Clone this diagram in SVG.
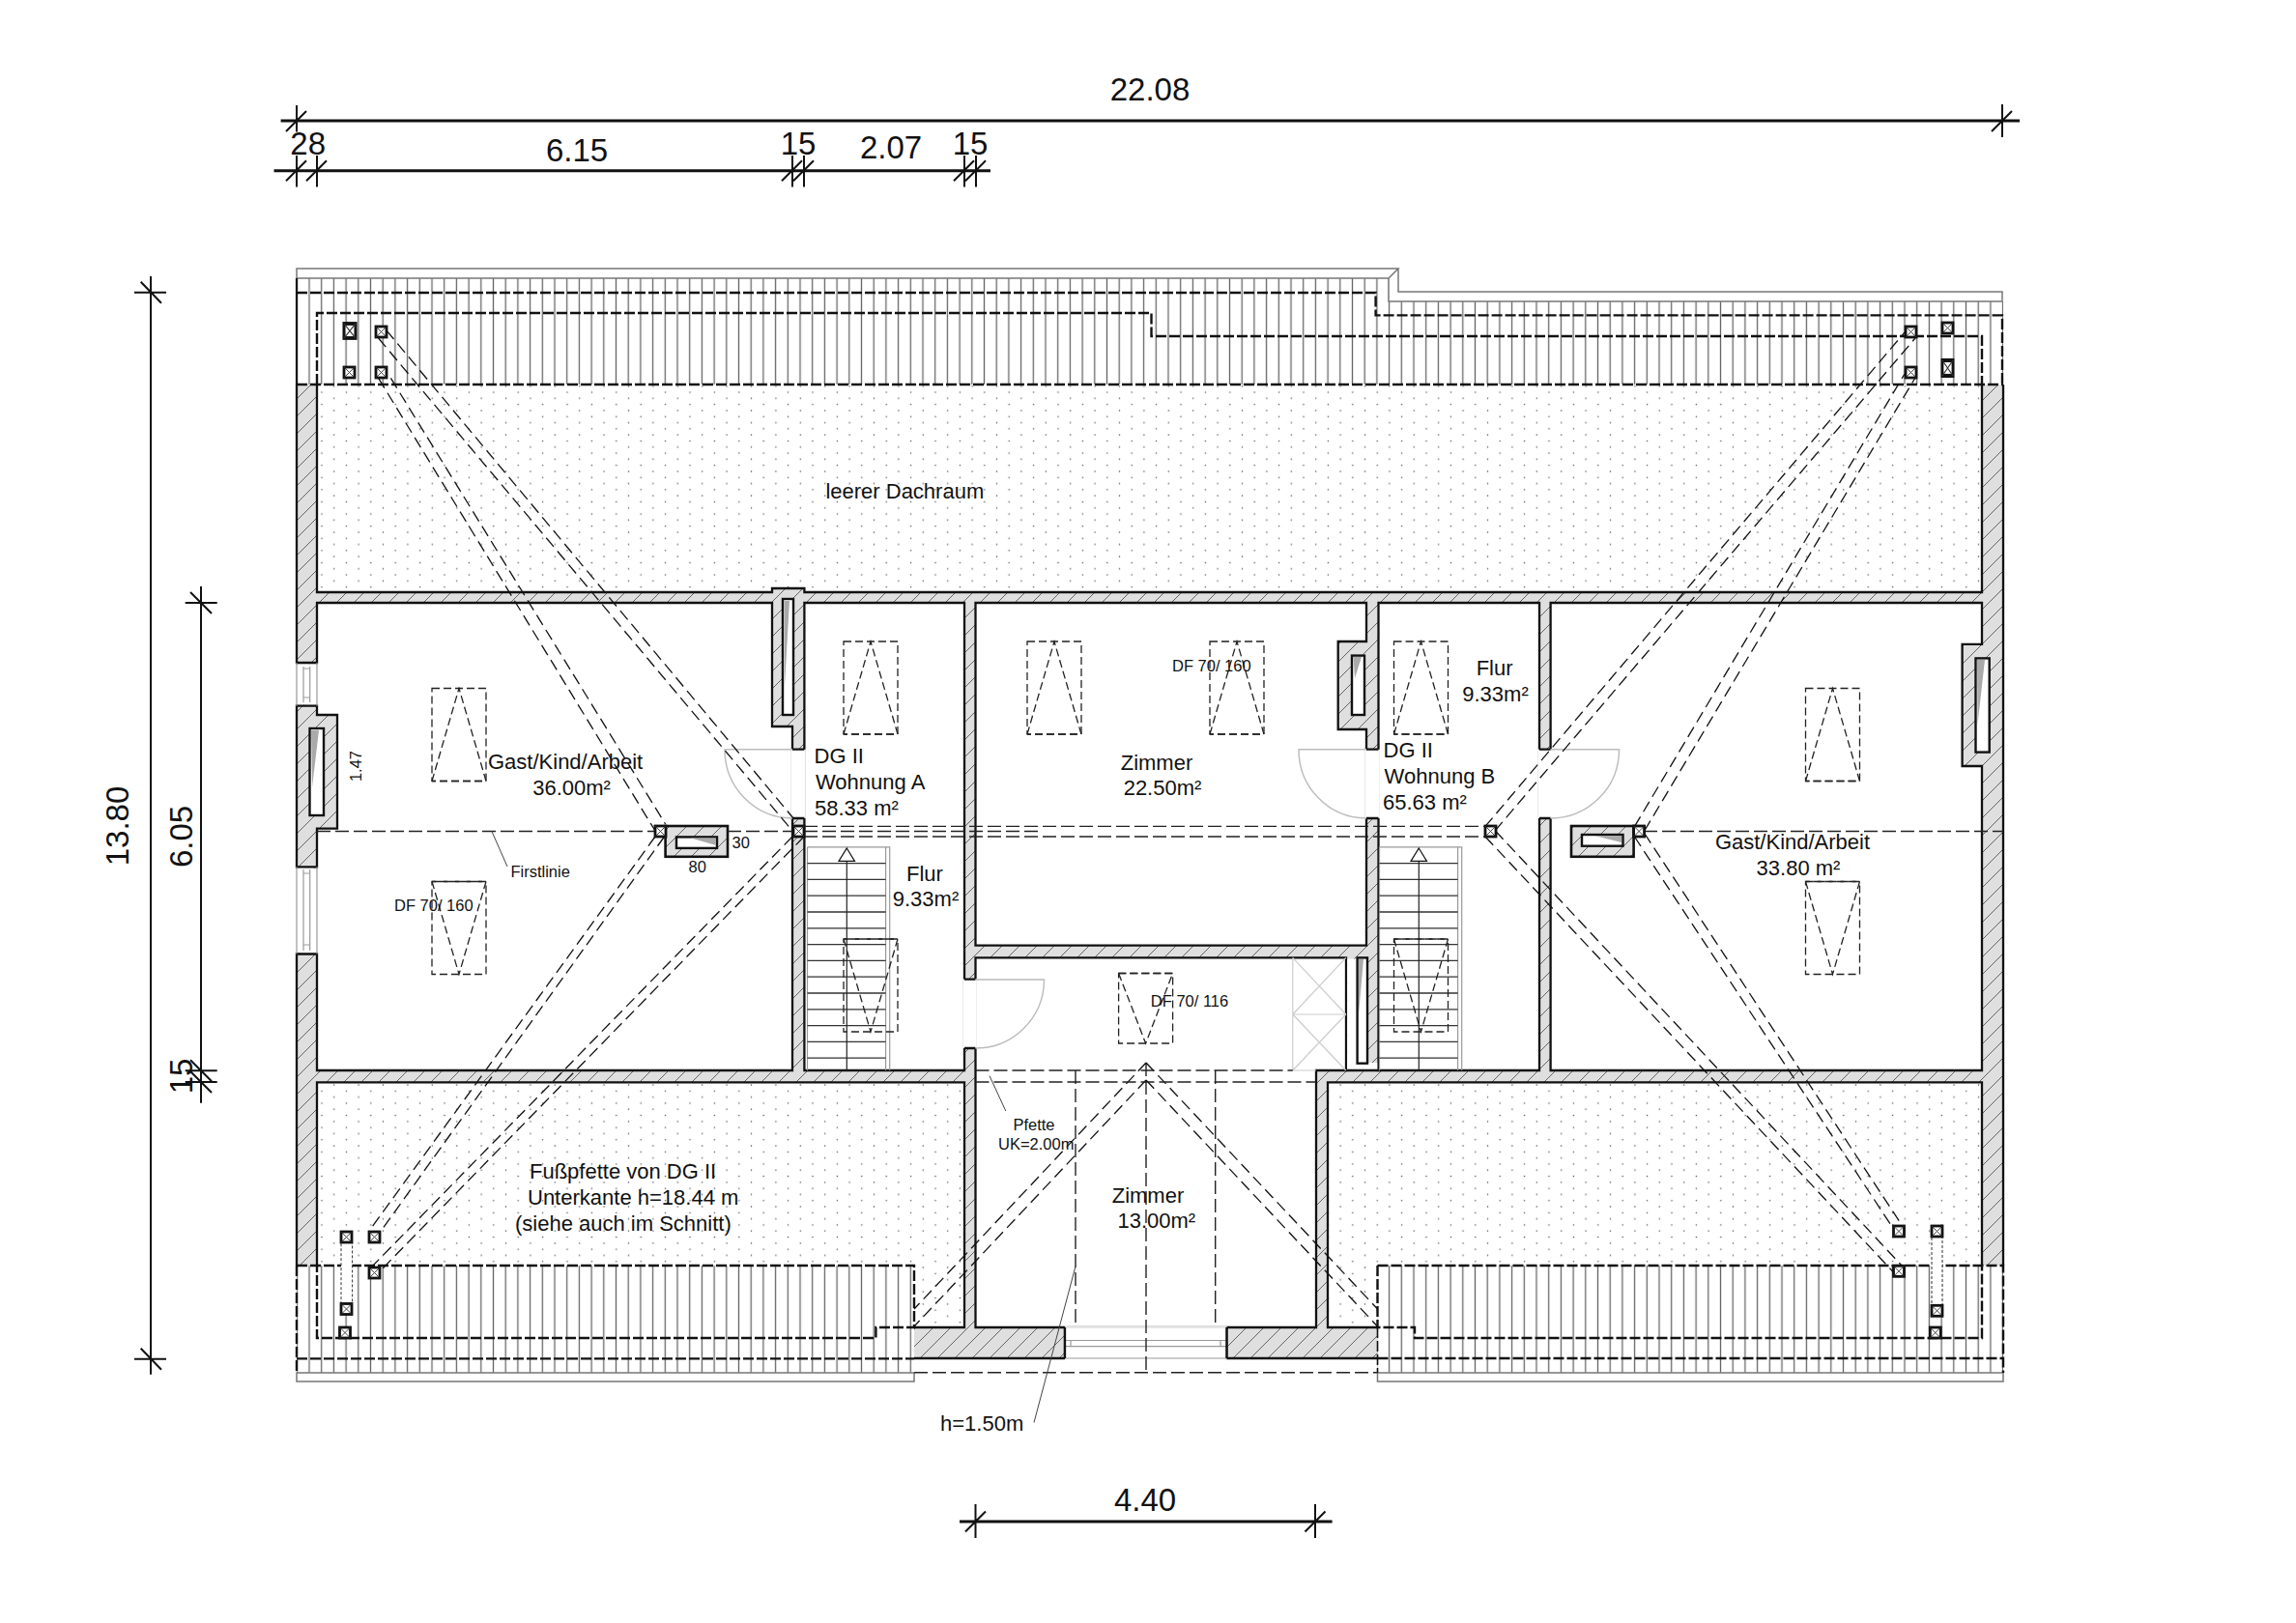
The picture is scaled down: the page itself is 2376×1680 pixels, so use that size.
<svg xmlns="http://www.w3.org/2000/svg" width="2376" height="1680" viewBox="0 0 2376 1680">
<style>
text{font-family:"Liberation Sans",Arial,sans-serif;fill:#111}
.d{font-size:33px;text-anchor:middle}
.t{font-size:22px}
.m{text-anchor:middle}
.s{font-size:16.5px}
.dim{fill:none;stroke:#111;stroke-width:2}
.dl{fill:none;stroke:#111;stroke-width:3}
.rf{fill:none;stroke:#777;stroke-width:1.5}
.thk{fill:none;stroke:#111;stroke-width:2.4;stroke-dasharray:11 3}
.thn{fill:none;stroke:#222;stroke-width:1.4;stroke-dasharray:14 5}
.h{fill:none;stroke:#111;stroke-width:1.3;stroke-dasharray:12 6}
.sk{fill:none;stroke:#222;stroke-width:1.3;stroke-dasharray:8 4}
.w{stroke:#111;stroke-width:2.3;fill:none}
.wht{fill:#fff;stroke:none}
.door{fill:none;stroke:#bbb;stroke-width:1.4}
.gl{fill:none;stroke:#999;stroke-width:1.2}
.lg{fill:none;stroke:#ccc;stroke-width:1.2}
.ld{fill:none;stroke:#444;stroke-width:1}
.p rect{fill:#fff;stroke:#111;stroke-width:2.8}
.p path{fill:none;stroke:#333;stroke-width:.9}
.slot{fill:#fff;stroke:#111;stroke-width:2.4}
.sl{fill:#aaa;stroke:none}
</style>
<defs>
<pattern id="hatch" patternUnits="userSpaceOnUse" width="18" height="18"><rect width="18" height="18" fill="#dfdfdf"/><path d="M-2 20L20 -2" stroke="#555" stroke-width=".9"/></pattern>
<pattern id="rib" patternUnits="userSpaceOnUse" x="313.65" y="0" width="12.7" height="40"><rect width="12.7" height="40" fill="#fff"/><path d="M6.35 0V40" stroke="#666" stroke-width="1.3"/></pattern>
<pattern id="dots1" patternUnits="userSpaceOnUse" x="326.65" y="399.7" width="25.4" height="12.6"><rect width="25.4" height="12.6" fill="#fff"/><rect x="5.7" y="5.7" width="1.3" height="1.3" fill="#555"/><rect x="18.4" y="12" width="1.3" height=".6" fill="#555"/><rect x="18.4" y="0" width="1.3" height=".7" fill="#555"/></pattern>
<pattern id="dots2" patternUnits="userSpaceOnUse" x="326.65" y="1123" width="25.4" height="12.6"><rect width="25.4" height="12.6" fill="#fff"/><rect x="5.7" y="5.7" width="1.3" height="1.3" fill="#555"/><rect x="18.4" y="12" width="1.3" height=".6" fill="#555"/><rect x="18.4" y="0" width="1.3" height=".7" fill="#555"/></pattern>
<g id="post" class="p"><rect width="11" height="11"/><path d="M0 0L11 11M11 0L0 11"/></g>
<g id="skyU"><rect class="sk" width="56" height="96"/><path class="sk" d="M0 96L28 0L56 96H0"/></g>
<g id="skyD"><rect class="sk" width="56" height="96"/><path class="sk" d="M0 0L28 96L56 0H0"/></g>
<g id="stair">
<path class="gl" d="M835.5 876.8H920.7V1108M916.6 876.8V1108M835.5 876.8V1108"/>
<path d="M835.5 893.6H916.6M835.5 910.4H916.6M835.5 927.2H916.6M835.5 944H916.6M835.5 960.8H916.6M835.5 977.6H916.6M835.5 994.4H916.6M835.5 1011.2H916.6M835.5 1028H916.6M835.5 1044.8H916.6M835.5 1061.6H916.6M835.5 1078.4H916.6M835.5 1095.2H916.6" fill="none" stroke="#333" stroke-width="1.3"/>
<path d="M876.3 891.4V1108" fill="none" stroke="#222" stroke-width="1.2"/>
<path d="M876.3 878L884.5 891.4H868Z" fill="#fff" stroke="#111" stroke-width="1.2"/>
</g>
</defs>

<g id="roof">
<rect x="307" y="288" width="1130" height="110" fill="url(#rib)"/>
<rect x="1437" y="312" width="636" height="86" fill="url(#rib)"/>
<rect x="307" y="1310" width="639" height="111" fill="url(#rib)"/>
<rect x="1425.5" y="1310" width="647.5" height="111" fill="url(#rib)"/>
<path class="rf" d="M307 288V278H1447L1437 288H307M1437 288V312H2072V302H1447V278M2072 302V312"/>
<path class="rf" d="M307 1421H946V1430H307ZM1425.5 1421H2073V1430H1425.5Z"/>
</g>

<g id="walls">
<path fill="url(#hatch)" d="M307 398H2073V1310H1425.5V1406H946V1310H307Z"/>
<path fill="url(#dots1)" d="M328 398H2051V613H832.4V609H799V613H328Z"/>
<path class="w" d="M328 398V613H799V609H832.4V613H2051V398"/>
<path fill="url(#dots2)" d="M328 1120.4H998V1374H946V1310H328Z"/>
<path class="w" d="M328 1310V1120.4H998V1374H946"/>
<path fill="url(#dots2)" d="M2051 1120.4H1374V1374H1425.5V1310H2051Z"/>
<path class="w" d="M2051 1310V1120.4H1374V1374H1425.5"/>
<path class="w" d="M307 398V1310M2073 398V1310"/>
<path class="w" d="M946 1406H1102V1374M1269.4 1374V1406H1425.5"/>
</g>

<g id="rooms">
<path class="w" style="fill:#fff" d="M328 624H799V752H820V1108H328V857.7H349V740H328Z"/>
<path class="w" style="fill:#fff" d="M832.4 624H998V1108H832.4Z"/>
<path class="w" style="fill:#fff" d="M1009.5 624H1414V664H1384.7V755H1414V978.6H1009.5Z"/>
<path class="w" style="fill:#fff" d="M1009.5 991.4H1393V1108H1362V1374H1009.5Z"/>
<path class="w" style="fill:#fff" d="M1426.5 624H1593V1108H1426.5Z"/>
<path class="w" style="fill:#fff" d="M1604.6 624H2051V666.8H2030.6V793H2051V1108H1604.6Z"/>
<rect class="wht" x="1394.2" y="992.6" width="10" height="114"/>
<rect class="wht" x="1394.2" y="1100" width="31" height="7"/>
<path class="w" d="M1393 1108H1426.5"/>
<rect class="wht" x="818.6" y="775.7" width="15.2" height="71.3"/>
<rect class="wht" x="996.6" y="1013.6" width="14.3" height="71.4"/>
<rect class="wht" x="1412.6" y="775.7" width="15.3" height="71.3"/>
<rect class="wht" x="1591.6" y="775.7" width="14.4" height="71.3"/>
<path class="w" d="M820 775.7H832.4M820 847H832.4M998 1013.6H1009.5M998 1085H1009.5M1414 775.7H1426.5M1414 847H1426.5M1593 775.7H1604.6M1593 847H1604.6"/>
<rect class="wht" x="305" y="687.3" width="25" height="42.2"/>
<rect class="wht" x="305" y="898.6" width="25" height="87.6"/>
<path class="w" d="M307 686H328M307 730.7H328M307 897.3H328M307 987.5H328"/>
<path class="gl" d="M307 686V730.7M328 686V730.7M314 690V727M320.7 690V727M314 692H320.7M314 722H320.7M307 897.3V987.5M328 897.3V987.5M314 900V984M320.7 900V984M314 904H320.7M314 978H320.7"/>
<rect class="wht" x="1102" y="1372.6" width="167.4" height="35"/>
<path class="gl" d="M1102 1387.5H1269.4M1102 1393.6H1269.4M1102 1406H1269.4M1108 1387.5V1393.6M1263 1387.5V1393.6"/>
<path class="lg" d="M1102 1374H1269.4"/>
<path class="w" d="M1102 1374V1406M1269.4 1374V1406"/>
<path class="door" d="M820 775.7H750A70 71 0 0 0 820 847"/>
<path class="door" d="M1009.5 1014H1080.5A71 71 0 0 1 1009.5 1085"/>
<path class="door" d="M1414 775.7H1344A70 71 0 0 0 1414 847"/>
<path class="door" d="M1604.6 775.7H1675.5A71 71 0 0 1 1604.6 847"/>
<path class="lg" d="M1337.8 1108V991.4M1337.8 1050H1392.8M1337.8 991.4L1392.8 1050M1392.8 991.4L1337.8 1050M1337.8 1050L1392.8 1108M1392.8 1050L1337.8 1108M1337.8 1108H1362"/>
</g>

<g id="slots">
<rect class="slot" x="320.5" y="754" width="14.5" height="90"/><path class="sl" d="M322 756H330L323 815Z"/>
<rect class="slot" x="810" y="620" width="11" height="120"/><path class="sl" d="M811.5 622H817L812 710Z"/>
<rect class="slot" x="1399" y="678.6" width="13" height="61.4"/><path class="sl" d="M1400.5 680H1409L1402 702Z"/>
<rect class="slot" x="1404.6" y="991.4" width="10.4" height="109.3"/><path class="sl" d="M1406 993H1411L1406 1050Z"/>
<rect class="slot" x="2044.5" y="681.4" width="14.2" height="97.2"/><path class="sl" d="M2046 683H2054L2046.5 750Z"/>
</g>

<g id="stairs">
<use href="#stair"/>
<use href="#stair" x="592"/>
</g>

<g id="chimneys">
<rect x="688.6" y="855" width="64.4" height="31.8" fill="url(#hatch)" stroke="#111" stroke-width="2.6"/>
<rect class="slot" x="700" y="866.4" width="42" height="11.5"/><path class="sl" d="M715 867.5H741V875Z"/>
<rect x="1626" y="855" width="64.6" height="31.8" fill="url(#hatch)" stroke="#111" stroke-width="2.6"/>
<rect class="slot" x="1637" y="864" width="42.5" height="11.7"/><path class="sl" d="M1650 865H1678V872Z"/>
</g>

<g id="skylights">
<use href="#skyU" x="447" y="712.5"/>
<use href="#skyD" x="447" y="912.5"/>
<use href="#skyU" x="873" y="664"/>
<use href="#skyD" x="873" y="972"/>
<use href="#skyU" x="1063" y="664"/>
<use href="#skyU" x="1252" y="664"/>
<use href="#skyU" x="1442.5" y="664"/>
<use href="#skyD" x="1442.5" y="972"/>
<use href="#skyU" x="1868.5" y="712.5"/>
<use href="#skyD" x="1868.5" y="912.5"/>
<rect class="sk" x="1157.6" y="1007.5" width="56" height="72.5"/><path class="sk" d="M1157.6 1007.5L1185.6 1080L1213.6 1007.5H1157.6"/>
</g>

<g id="roofdash">
<path class="thk" d="M307 303H1423.6V326.4H2072V398"/>
<path class="thk" d="M328 398V324H1191.5V348H2051V398"/>
<path class="thk" d="M307 398H2073"/>
<path class="dl" d="M307 288V398" style="stroke-width:2.2"/>
<path class="thk" d="M307 1310H946V1374H906.4V1385H328V1310"/>
<path class="thk" d="M307 1310V1421M307 1406.4H946"/>
<path class="thk" d="M1425.5 1310H2073V1421M1425.5 1310V1374H1464V1385H2051V1310M1425.5 1406H2073"/>
<path class="thk" d="M1425.5 1374V1421" style="stroke-width:1.6"/>
<path class="thn" d="M946 1420.7H1425.5"/>
</g>

<g id="connectors">
<path class="thn" d="M328 860.5H678M753 860.5H820M1701 860.5H2073M832 860.5H1075"/>
<path class="thn" d="M832 855.4H1537M832 866H1537"/>
<path class="h" d="M391.6 391.4L678 860M404.4 391.4L688.6 853"/>
<path class="h" d="M391.6 350L820 860M399.8 341.8L821 847"/>
<path class="h" d="M678 866L381.4 1275M687.5 866L393.7 1275"/>
<path class="h" d="M820 866L385 1311M832 866L395 1314"/>
<path class="h" d="M1536.8 855.7L1971 344M1547 860L1982 350"/>
<path class="h" d="M1691.4 855.7L1971 387M1701.7 860L1982 391"/>
<path class="h" d="M1691.4 866L1959.3 1271.7M1701.7 862.5L1968 1268"/>
<path class="h" d="M1537 866L1959.3 1316.7M1547.4 860L1968 1310"/>
<path class="h" d="M1186 1100L946 1355M1186 1118L946 1373M1186 1100L1425.5 1355M1186 1118L1425.5 1373"/>
<path class="thn" d="M1186 1100V1420.7M1113 1108V1374M1257.7 1108V1374"/>
<path class="thn" d="M1009.5 1108H1337.8M1009.5 1120H1362"/>
<path class="ld" d="M1024 1113.6L1040.8 1150M1113 1310.7L1070 1472.5M509 860.7L525 897"/>
</g>

<g id="posts">
<use href="#post" transform="translate(356 335) scale(1.09 1.36)"/>
<use href="#post" x="356" y="380"/>
<use href="#post" x="389" y="338"/>
<use href="#post" x="389" y="380"/>
<use href="#post" x="1972" y="338"/>
<use href="#post" x="1972" y="380"/>
<use href="#post" x="2010" y="334"/>
<use href="#post" transform="translate(2010 373) scale(1 1.45)"/>
<use href="#post" x="678" y="855"/>
<use href="#post" x="821" y="855"/>
<use href="#post" x="1537" y="855"/>
<use href="#post" x="1690.6" y="855"/>
<rect x="353" y="1286" width="11.6" height="63" fill="#fff" stroke="#333" stroke-width="1" stroke-dasharray="3 2"/>
<use href="#post" x="353" y="1275"/>
<use href="#post" x="382" y="1275"/>
<use href="#post" x="382" y="1312"/>
<use href="#post" x="353" y="1349.5"/>
<use href="#post" x="351.5" y="1374"/>
<rect x="1999" y="1280" width="11" height="71" fill="#fff" stroke="#333" stroke-width="1" stroke-dasharray="3 2"/>
<use href="#post" x="1959.5" y="1269"/>
<use href="#post" x="1959.5" y="1310.3"/>
<use href="#post" x="1999" y="1269"/>
<use href="#post" x="1999" y="1351.3"/>
<use href="#post" x="1997.3" y="1374"/>
</g>

<g id="dimensions">
<path class="dl" d="M290.6 125H2090"/>
<path class="dim" d="M307 109V136.5M296 136L317 115M2072 108V142M2061 136L2082 115"/>
<path class="dl" d="M283.5 176.8H1025"/>
<path class="dim" d="M307 161V193.6M328 161V193.6M820 161V193.6M832 161V193.6M998 161V193.6M1010 161V193.6M296 187.3L317 166.3M317 187.3L338 166.3M809 187.3L830 166.3M821 187.3L842 166.3M987 187.3L1008 166.3M999 187.3L1020 166.3"/>
<path class="dl" d="M993 1575H1378.6"/>
<path class="dim" d="M1009.5 1557V1592M1361 1557V1592M999 1585.5L1020 1564.5M1350.5 1585.5L1371.5 1564.5"/>
<path class="dim" d="M156 286V1422.7M139 302.7H172M139 1406.7H172M145.7 291.7L167 313.7M145.7 1395.7L167 1417.7"/>
<path class="dim" d="M208 607V1141.7M191.7 624H224.7M191.7 1108.3H224.7M191.7 1120H224.7M197 613L219 635M197 1097.3L219 1119.3M197 1109L219 1131"/>
</g>

<g id="labels">
<text class="d" x="1190" y="104">22.08</text>
<text class="d" x="318.7" y="160">28</text>
<text class="d" x="597" y="167">6.15</text>
<text class="d" x="826" y="160">15</text>
<text class="d" x="922" y="164">2.07</text>
<text class="d" x="1004" y="160">15</text>
<text class="d" x="1185" y="1564">4.40</text>
<text class="d" transform="translate(133.3 855) rotate(-90)">13.80</text>
<text class="d" transform="translate(198.7 866) rotate(-90)">6.05</text>
<text class="d" transform="translate(198.7 1114) rotate(-90)">15</text>
<text class="t" x="854.4" y="516.4">leerer Dachraum</text>
<text class="t" x="505" y="796">Gast/Kind/Arbeit</text>
<text class="t m" x="591.6" y="823">36.00m²</text>
<text class="s m" transform="translate(374 793) rotate(-90)">1.47</text>
<text class="s" x="757.5" y="878">30</text>
<text class="s" x="712.5" y="903">80</text>
<text class="s" x="528.4" y="908">Firstlinie</text>
<text class="s" x="408" y="943">DF 70/ 160</text>
<text class="t" x="842.6" y="790.4">DG II</text>
<text class="t" x="844" y="816.8">Wohnung A</text>
<text class="t" x="843" y="844">58.33 m²</text>
<text class="t m" x="957" y="911.8">Flur</text>
<text class="t m" x="958" y="937.5">9.33m²</text>
<text class="s" x="1213" y="694.6">DF 70/ 160</text>
<text class="t m" x="1546.6" y="699.3">Flur</text>
<text class="t m" x="1547.5" y="725.7">9.33m²</text>
<text class="t m" x="1197" y="797">Zimmer</text>
<text class="t m" x="1203" y="823">22.50m²</text>
<text class="t" x="1431.6" y="784">DG II</text>
<text class="t" x="1432.6" y="810.7">Wohnung B</text>
<text class="t" x="1431" y="837.5">65.63 m²</text>
<text class="s" x="1190.8" y="1042">DF 70/ 116</text>
<text class="t m" x="1855" y="879.3">Gast/Kind/Arbeit</text>
<text class="t m" x="1861" y="905.7">33.80 m²</text>
<text class="t" x="548" y="1220">Fußpfette von DG II</text>
<text class="t" x="546" y="1247">Unterkante h=18.44 m</text>
<text class="t" x="533" y="1274">(siehe auch im Schnitt)</text>
<text class="t" x="973" y="1481">h=1.50m</text>
<text class="s m" x="1070" y="1170">Pfette</text>
<text class="s" x="1033" y="1190">UK=2.00m</text>
<text class="t m" x="1188" y="1244.6">Zimmer</text>
<text class="t m" x="1196.8" y="1271">13.00m²</text>
</g>
</svg>
